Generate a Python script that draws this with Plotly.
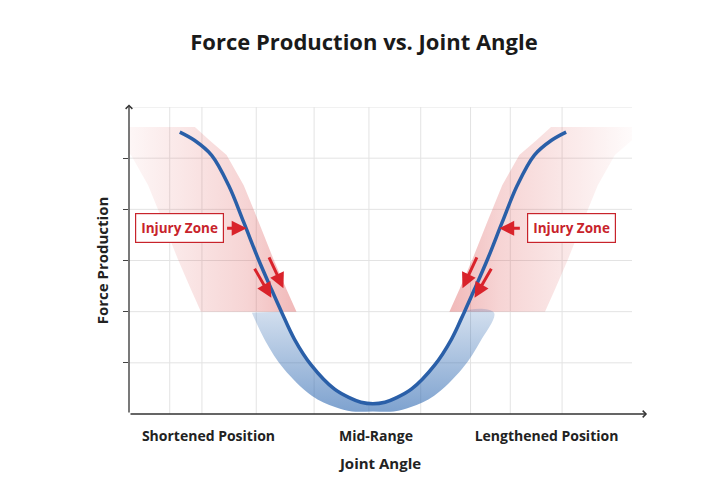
import numpy as np
import plotly.graph_objects as go

# curve (left half), mirrored about the minimum
left_x = [1.01, 1.30, 1.64, 1.98, 2.28, 2.57, 2.83, 3.03, 3.29, 3.62, 4.08, 4.40, 4.61, 4.85]
left_y = [5.51, 5.35, 5.06, 4.47, 3.75, 3.03, 2.44, 2.00, 1.46, 0.96, 0.49, 0.31, 0.23, 0.20]
center = 4.85
tick_vals = [1.58, 4.91, 8.30]
tick_text = ["Shortened Position", "Mid-Range", "Lengthened Position"]
grid_x = [0.81, 1.45, 2.53, 3.68, 4.77, 5.80, 6.79, 7.58, 8.61]
grid_y = [1, 2, 3, 4, 5, 6]
zone_y = 2.0

lx = np.array(left_x); ly = np.array(left_y)
rx = 2 * center - lx[::-1]; ry = ly[::-1]
cx = np.concatenate([lx, rx[1:]]); cy = np.concatenate([ly, ry[1:]])

fig = go.Figure()
RED = "rgba(215,60,60,0.36)"
for side in (1, -1):
    xs = lx if side == 1 else 2 * center - lx
    m = ly >= zone_y - 0.3
    px = xs[m]; py = np.clip(ly[m], zone_y, None)
    py = py.copy(); py[0] += 0.1
    poly_x = list(px - side * 1.6) + list((px + side * 0.3)[::-1])
    poly_y = list(py) + list(py[::-1])
    cs = [[0, "rgba(215,60,60,0.0)"], [0.75, "rgba(215,60,60,0.22)"], [1, RED]]
    if side == -1:
        cs = [[0, RED], [0.25, "rgba(215,60,60,0.22)"], [1, "rgba(215,60,60,0.0)"]]
    fig.add_trace(go.Scatter(x=poly_x, y=poly_y, fill="toself", mode="none",
        fillgradient=dict(type="horizontal", colorscale=cs), hoverinfo="skip", showlegend=False))
# blue band (below zone_y): between curve and an outward/lower copy
m = cy <= zone_y + 0.02
bx = cx[m]; by = cy[m]
ox = bx - 0.6 * np.tanh((center - bx) / 0.8)
oy = np.clip(by - 0.2 * np.exp(-((bx - center) / 1.2) ** 2), 0.05, None)
fig.add_trace(go.Scatter(x=list(bx) + list(ox[::-1]), y=list(by) + list(oy[::-1]), fill="toself", mode="lines",
    line=dict(shape="spline", width=0, color="rgba(0,0,0,0)"),
    fillgradient=dict(type="vertical", colorscale=[[0, "rgba(40,100,175,0.6)"], [1, "rgba(40,100,175,0.2)"]]),
    hoverinfo="skip", showlegend=False))
fig.add_trace(go.Scatter(x=cx, y=cy, mode="lines", line=dict(color="#2a5fa8", width=3.5, shape="spline", smoothing=1.0),
    hoverinfo="skip", showlegend=False))

shapes = []
for g in grid_x:
    shapes.append(dict(type="line", x0=g, x1=g, y0=0, y1=6, line=dict(color="#e3e3e3", width=1), layer="below"))
for g in grid_y:
    shapes.append(dict(type="line", x0=0, x1=10, y0=g, y1=g, line=dict(color="#e3e3e3", width=1), layer="below"))

ann = []
arrow_red = "#d9232b"
for (bxp, txt, axp, ax_to) in [(1.01, "Injury Zone", 2.34, 1.92), (8.79, "Injury Zone", 7.36, 7.80)]:
    ann.append(dict(x=bxp, y=3.63, text="<b>" + txt + "</b>", showarrow=False,
        font=dict(color="#c8232b", size=13.5, family="Open Sans"), bgcolor="white",
        bordercolor="#c8232b", borderwidth=1.2, borderpad=5))
    ann.append(dict(x=axp, y=3.63, ax=ax_to, ay=3.63, axref="x", ayref="y", showarrow=True,
        arrowhead=2, arrowsize=1, arrowwidth=3, arrowcolor=arrow_red, text=""))
for (x0, y0, x1, y1) in [(2.48, 2.87, 2.83, 2.27), (2.77, 3.09, 3.07, 2.46)]:
    for (a, b) in [(x0, x1), (2 * center - x0, 2 * center - x1)]:
        ann.append(dict(x=b, y=y1, ax=a, ay=y0, axref="x", ayref="y", showarrow=True,
            arrowhead=2, arrowsize=1, arrowwidth=3, arrowcolor=arrow_red, text=""))
ann.append(dict(x=10.3, y=0, ax=0, ay=0, axref="x", ayref="y", showarrow=True,
    arrowhead=4, arrowsize=1, arrowwidth=1.3, arrowcolor="#333", text=""))
ann.append(dict(x=0, y=6.05, ax=0, ay=0, axref="x", ayref="y", showarrow=True,
    arrowhead=4, arrowsize=1, arrowwidth=1.3, arrowcolor="#333", text=""))

fig.update_layout(
    width=712, height=496, plot_bgcolor="white", paper_bgcolor="white",
    margin=dict(l=121, r=88, t=99, b=90, autoexpand=False),
    title=dict(text="<b>Force Production vs. Joint Angle</b>", x=0.5, xanchor="center", y=0.931, yanchor="middle",
               font=dict(size=22, color="#1a1a1a", family="Open Sans")),
    xaxis=dict(range=[0, 10], showgrid=False, zeroline=False, showline=False,
               tickvals=tick_vals, ticktext=["<b>%s</b>" % t for t in tick_text], ticks="",
               ticklabelstandoff=12, tickfont=dict(size=14, color="#222", family="Open Sans"),
               title=dict(text="<b>Joint Angle</b>", font=dict(size=15, color="#222", family="Open Sans"), standoff=14)),
    yaxis=dict(range=[0, 6], showgrid=False, zeroline=False, showline=False,
               tickvals=[1, 2, 3, 4, 5], ticktext=[""] * 5, ticks="outside", ticklen=5, tickcolor="#444",
               title=dict(text="<b>Force Production</b>", font=dict(size=15, color="#222", family="Open Sans"), standoff=8)),
    shapes=shapes, annotations=ann)
fig.write_html("out.html")
